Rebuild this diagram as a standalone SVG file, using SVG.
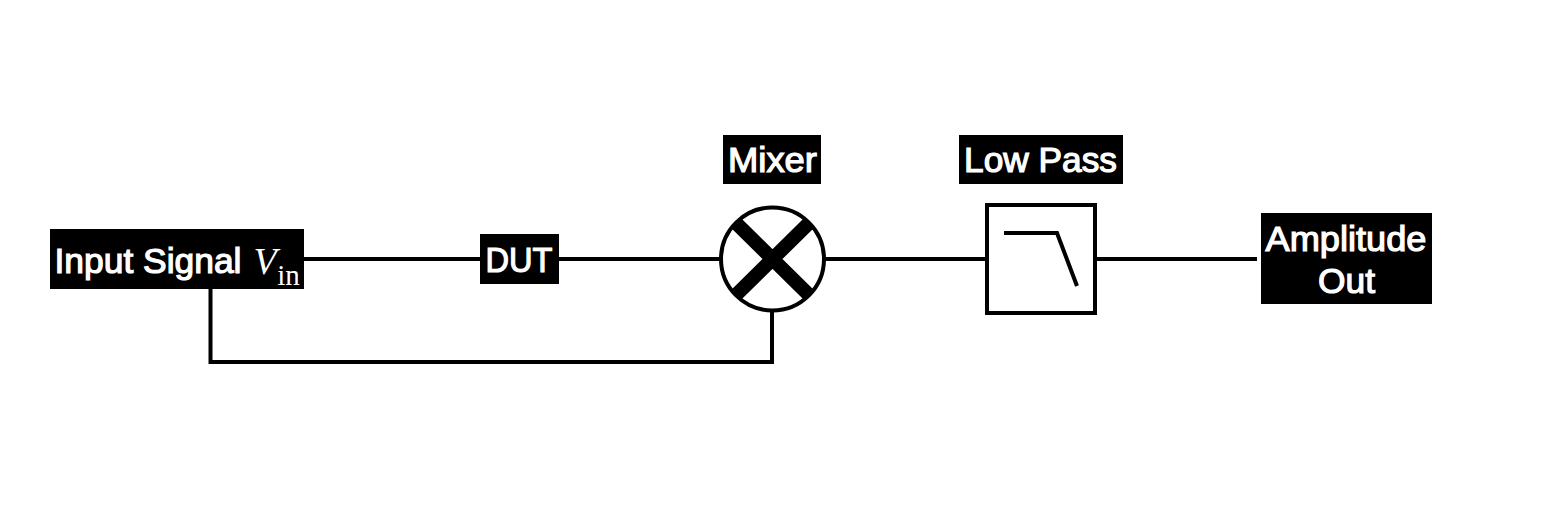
<svg xmlns="http://www.w3.org/2000/svg" width="1568" height="532" viewBox="0 0 1568 532">
<style>
.bg{fill:#000}
.t{fill:#fff;font-family:"Liberation Sans",Arial,sans-serif;font-size:35.500px;font-weight:400;stroke:#fff;stroke-width:1.200px;text-anchor:middle}
.s{font-family:"Liberation Serif","Times New Roman",serif;stroke-width:0}
.w{fill:none;stroke:#000;stroke-width:4}
</style>
<rect width="1568" height="532" fill="#fff"/>
<g id="connectors" class="w">
<path d="M304 259H480"/>
<path d="M559 259H720"/>
<path d="M825 259H986"/>
<path d="M1096 259H1257"/>
<path d="M210.500 289V362H772V311"/>
</g>
<g id="input"><rect class="bg" x="50" y="229" width="254" height="60"/>
<text class="t" x="148" y="273" textLength="187" lengthAdjust="spacingAndGlyphs">Input Signal</text>
<text class="t s" x="265" y="274" font-style="italic" style="font-size:38px">V</text>
<text class="t s" x="288.500" y="285" style="font-size:29px">in</text></g>
<g id="dut"><rect class="bg" x="480" y="234" width="79" height="50"/><text class="t" x="519" y="272" textLength="67" lengthAdjust="spacingAndGlyphs">DUT</text></g>
<g id="mixer-label"><rect class="bg" x="723" y="135" width="98" height="49"/><text class="t" x="772.500" y="172" textLength="89" lengthAdjust="spacingAndGlyphs">Mixer</text></g>
<g id="mixer"><circle cx="772.500" cy="259" r="51.500" fill="#fff" stroke="#000" stroke-width="4"/>
<path d="M737 224L808 294M808 224L737 294" fill="none" stroke="#000" stroke-width="14"/></g>
<g id="lowpass-label"><rect class="bg" x="959" y="135" width="164" height="49"/><text class="t" x="1040.500" y="172" textLength="153" lengthAdjust="spacingAndGlyphs">Low Pass</text></g>
<g id="lowpass"><rect x="987" y="205" width="108" height="108" fill="#fff" stroke="#000" stroke-width="4"/>
<path d="M1004 233H1057L1077 286" class="w"/></g>
<g id="amplitude"><rect class="bg" x="1261" y="213" width="171" height="91"/>
<text class="t" x="1346" y="251" textLength="161" lengthAdjust="spacingAndGlyphs">Amplitude</text><text class="t" x="1346.500" y="293" textLength="57" lengthAdjust="spacingAndGlyphs">Out</text></g>
</svg>
